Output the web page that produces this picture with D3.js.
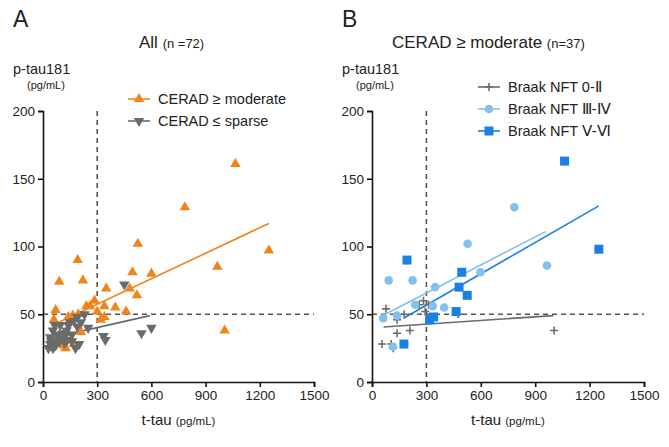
<!DOCTYPE html>
<html><head><meta charset="utf-8">
<script src="https://cdn.jsdelivr.net/npm/d3@7"></script>
<style>body{margin:0;background:#fff}text{font-family:"Liberation Sans",Arial,sans-serif}</style>
</head><body><svg id="c" width="669" height="447"></svg>
<script>
// panel A: [t-tau, p-tau181]
const ceradMod = [[90,74],[192,90],[221,75],[70,53],[60,46],[55,28],[140,48],[150,46],[140,36],[115,27],[125,25],[100,30],[170,28],[210,37],[240,56],[260,56],[285,60],[340,56],[350,69],[400,55],[320,46],[340,48],[460,52],[480,69],[495,81],[525,102],[520,64],[600,80],[785,129],[965,85],[1005,38],[1065,161],[1250,97],[195,50],[300,52],[90,28],[165,49]];
const ceradSparse = [[30,25],[40,33],[45,30],[55,25],[55,38],[65,42],[80,35],[90,30],[95,42],[100,33],[110,36],[120,29],[130,38],[140,42],[150,44],[160,30],[170,45],[180,25],[190,41],[200,28],[210,44],[230,50],[250,40],[40,28],[75,30],[120,34],[160,35],[190,48],[450,72],[335,34],[345,31],[545,36],[600,40],[70,27],[135,31]];
const fitMod = [[55,42],[1250,117]];
const fitSparse = [[30,32],[592,49]];
// panel B
const braak02 = [[77,54],[55,28],[106,28],[117,25],[138,46],[138,36],[178,50],[209,38],[260,57],[284,60],[293,52],[312,57],[475,50],[1004,38]];
const braak34 = [[62,47],[92,75],[224,75],[138,49],[238,57],[335,56],[348,70],[398,55],[527,102],[598,81],[785,129],[965,86],[116,26]];
const braak56 = [[193,90],[495,81],[480,70],[525,64],[464,52],[340,48],[318,46],[176,28],[1062,163],[1251,98]];
const fit02 = [[64,40.6],[1000,49]];
const fit34 = [[73,50],[957,111]];
const fit56 = [[174,47],[1251,130]];
const xTicks = [0,300,600,900,1200,1500];
const yTicks = [0,50,100,150,200];

const orange = "#f08519", gray = "#6b6b6b", lblue = "#83c0ee", blue = "#1b80e4";
const svg = d3.select("#c");

function marker(g, type, color, x, y) {
  if (type === "up") g.append("path").attr("d", d3.symbol(d3.symbolTriangle, 48)()).attr("transform", `translate(${x},${y})`).attr("fill", color);
  else if (type === "down") g.append("path").attr("d", d3.symbol(d3.symbolTriangle, 48)()).attr("transform", `translate(${x},${y}) rotate(180)`).attr("fill", color);
  else if (type === "circle") g.append("circle").attr("cx", x).attr("cy", y).attr("r", 4.3).attr("fill", color);
  else if (type === "square") g.append("rect").attr("x", x - 4.5).attr("y", y - 4.5).attr("width", 9).attr("height", 9).attr("fill", color);
  else g.append("path").attr("d", `M${x-4},${y}H${x+4}M${x},${y-4}V${y+4}`).attr("stroke", color).attr("stroke-width", 1.6);
}

function panel(x0, x1, series, fits, letter, title, sub, legendX, legendY, legendGap) {
  const x = d3.scaleLinear().domain([0, 1500]).range([x0, x1]);
  const y = d3.scaleLinear().domain([0, 200]).range([382, 111]);
  const g = svg.append("g");
  // cut-off lines
  g.append("line").attr("x1", x(300)).attr("x2", x(300)).attr("y1", y(200)).attr("y2", y(0))
    .attr("stroke", "#555").attr("stroke-width", 1.6).attr("stroke-dasharray", "5,4");
  g.append("line").attr("x1", x(0)).attr("x2", x(1500)).attr("y1", y(50)).attr("y2", y(50))
    .attr("stroke", "#555").attr("stroke-width", 1.6).attr("stroke-dasharray", "5,4");
  const xa = g.append("g").attr("transform", `translate(0,${y(0)})`).call(d3.axisBottom(x).tickValues(xTicks).tickFormat(d3.format("d")).tickSize(5));
  const ya = g.append("g").attr("transform", `translate(${x(0)},0)`).call(d3.axisLeft(y).tickValues(yTicks).tickSize(5));
  [xa, ya].forEach(a => {
    a.selectAll("path,line").attr("stroke", "#111").attr("stroke-width", 1.6);
    a.selectAll("text").attr("font-size", 13.5).attr("fill", "#222");
  });
  fits.forEach(f => g.append("line").attr("x1", x(f.d[0][0])).attr("y1", y(f.d[0][1]))
    .attr("x2", x(f.d[1][0])).attr("y2", y(f.d[1][1])).attr("stroke", f.c).attr("stroke-width", 1.6));
  series.forEach(s => s.d.forEach(p => marker(g, s.t, s.c, x(p[0]), y(p[1]))));
  // legend
  series.forEach((s, i) => {
    const ly = legendY + i * legendGap;
    g.append("line").attr("x1", legendX - 30).attr("x2", legendX - 8).attr("y1", ly).attr("y2", ly).attr("stroke", s.c).attr("stroke-width", 1.6);
    marker(g, s.t, s.c, legendX - 19, ly);
    g.append("text").attr("x", legendX).attr("y", ly + 5).attr("font-size", 14.5).attr("fill", "#222").text(s.n);
  });
  // labels
  g.append("text").attr("x", x0 - 30).attr("y", 27).attr("font-size", 23).attr("fill", "#222").text(letter);
  const t = g.append("text").attr("y", 48).attr("font-size", 17).attr("fill", "#222").attr("x", title.x);
  t.append("tspan").text(title.s);
  t.append("tspan").attr("font-size", 13).text(sub);
  g.append("text").attr("x", x0 - 30).attr("y", 74).attr("font-size", 14.5).attr("fill", "#222").text("p-tau181");
  g.append("text").attr("x", x0 - 16).attr("y", 89).attr("font-size", 11).attr("fill", "#222").text("(pg/mL)");
  const xl = g.append("text").attr("x", (x0 + x1) / 2).attr("y", 425).attr("text-anchor", "middle").attr("font-size", 15).attr("fill", "#222");
  xl.append("tspan").text("t-tau ");
  xl.append("tspan").attr("font-size", 11.5).text("(pg/mL)");
}

panel(43, 314,
  [{n: "CERAD \u2265 moderate", d: ceradMod, c: orange, t: "up"}, {n: "CERAD \u2264 sparse", d: ceradSparse, c: gray, t: "down"}],
  [{d: fitMod, c: orange}, {d: fitSparse, c: gray}],
  "A", {s: "All ", x: 139}, "(n =72)", 158, 99, 22);
panel(372, 644,
  [{n: "Braak NFT 0-\u2161", d: braak02, c: gray, t: "plus"}, {n: "Braak NFT \u2162-\u2163", d: braak34, c: lblue, t: "circle"}, {n: "Braak NFT \u2164-\u2165", d: braak56, c: blue, t: "square"}],
  [{d: fit02, c: gray}, {d: fit34, c: lblue}, {d: fit56, c: blue}],
  "B", {s: "CERAD \u2265 moderate ", x: 392}, "(n=37)", 508, 87, 22);
</script></body></html>
